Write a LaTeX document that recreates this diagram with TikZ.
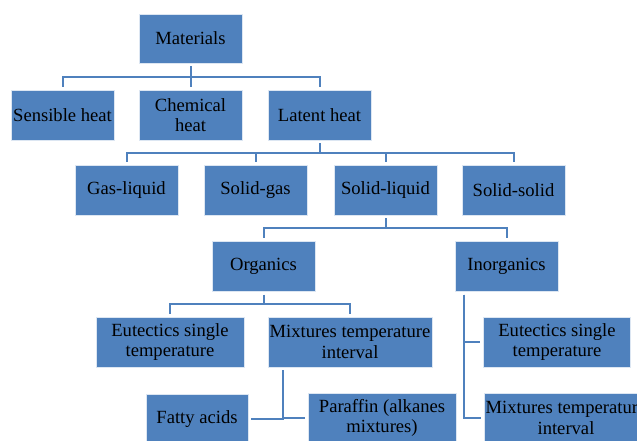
\documentclass[tikz,border=0pt]{standalone}
\usepackage{fontspec}
\setmainfont{Liberation Serif}
\definecolor{boxblue}{HTML}{4F81BD}
\definecolor{linkblue}{HTML}{4F81BD}
\begin{document}
\begin{tikzpicture}[x=1pt,y=-1pt,
  box/.style={rectangle, fill=boxblue, draw=white!80!boxblue, line width=0.8pt,
    minimum height=50pt, inner sep=0pt, align=center,
    font=\fontsize{18.6}{20.5}\selectfont, text=black},
  link/.style={draw=linkblue, line width=2pt, shorten <=3pt, shorten >=3pt}]
\useasboundingbox (0,0) rectangle (637,440);
\begin{scope}
\clip (0,0) rectangle (637,440);
% level 0
\node[box, minimum width=103pt, minimum height=49pt] (mat) at (190.5,38.5) {Materials};
% level 1
\node[box, minimum width=103pt] (sens) at (62.5,115) {Sensible heat};
\node[box, minimum width=103pt] (chem) at (190.5,115) {Chemical\\heat};
\node[box, minimum width=103pt] (lat) at (319.5,115) {Latent heat};
% level 2
\node[box, minimum width=103pt] (gl) at (126.5,190) {Gas-liquid};
\node[box, minimum width=103pt] (sg) at (255.5,190) {Solid-gas};
\node[box, minimum width=103pt] (sl) at (385.5,190) {Solid-liquid};
\node[box, minimum width=103pt] (ss) at (513.5,190) {Solid-solid};
% level 3
\node[box, minimum width=103pt] (org) at (263.5,266.5) {Organics};
\node[box, minimum width=103pt] (inorg) at (506.5,266.5) {Inorganics};
% level 4
\node[box, minimum width=148pt] (eutA) at (170,342) {Eutectics single\\temperature};
\node[box, minimum width=164pt] (mixA) at (350,342) {Mixtures temperature\\interval};
\node[box, minimum width=147pt] (eutB) at (557,342) {Eutectics single\\temperature};
\node[box, minimum width=164pt] (mixB) at (566,418) {Mixtures temperature\\interval};
% level 5
\node[box, minimum width=102pt] (fat) at (197,419) {Fatty acids};
\node[box, minimum width=148pt] (par) at (382,418) {Paraffin (alkanes\\mixtures)};
% connectors
\draw[link] (mat.south) -- (mat.south |- 0,77) -| (sens.north);
\draw[link] (mat.south) -- (mat.south |- 0,77) -| (chem.north);
\draw[link] (mat.south) -- (mat.south |- 0,77) -| (lat.north);
\draw[link] (lat.south) -- (lat.south |- 0,153) -| (gl.north);
\draw[link] (lat.south) -- (lat.south |- 0,153) -| (sg.north);
\draw[link] (lat.south) -- (lat.south |- 0,153) -| (sl.north);
\draw[link] (lat.south) -- (lat.south |- 0,153) -| (ss.north);
\draw[link] (sl.south) -- (sl.south |- 0,228) -| (org.north);
\draw[link] (sl.south) -- (sl.south |- 0,228) -| (inorg.north);
\draw[link] (org.south) -- (org.south |- 0,304) -| (eutA.north);
\draw[link] (org.south) -- (org.south |- 0,304) -| (mixA.north);
\coordinate (mixstem) at (283,367);
\draw[link] (mixstem) |- (fat.east);
\draw[link] (mixstem) |- (par.west);
\coordinate (instem) at (464,291.5);
\draw[link] (instem) |- (eutB.west);
\draw[link] (instem) |- (mixB.west);
\end{scope}
\end{tikzpicture}
\end{document}
